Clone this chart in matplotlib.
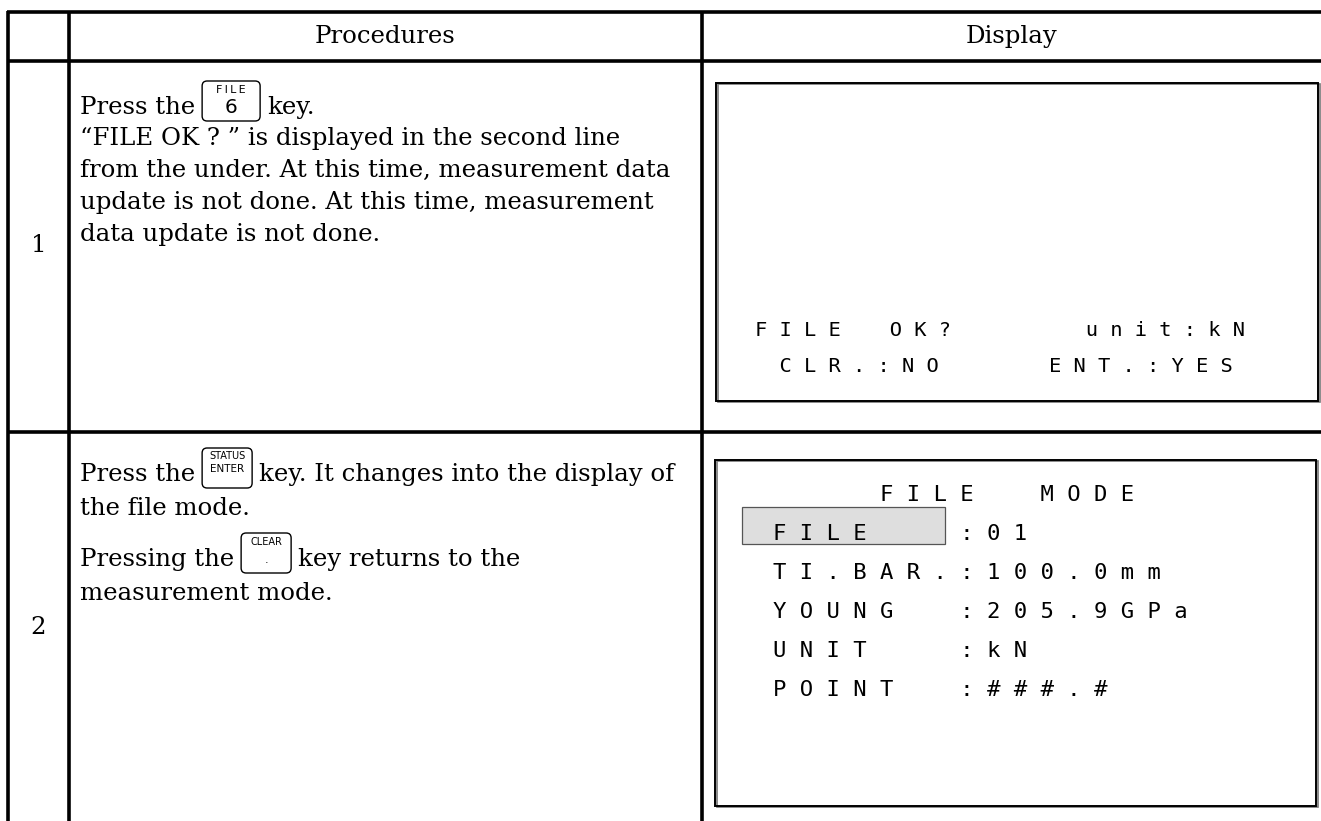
import matplotlib
matplotlib.use('Agg')
import matplotlib.pyplot as plt
from matplotlib.patches import Rectangle, FancyBboxPatch

W, H = 1321, 821

# Table content
headers = ['Procedures', 'Display']
step_numbers = ['1', '2']

# Procedure text, one list per line; a tuple is a key icon (top label, main label)
step1_lines = [
    ['Press the', ('F\u2009I\u2009L\u2009E', '6'), 'key.'],
    ['\u201cFILE OK ? \u201d is displayed in the second line'],
    ['from the under. At this time, measurement data'],
    ['update is not done. At this time, measurement'],
    ['data update is not done.'],
]
step2_lines = [
    ['Press the', ('STATUS', 'ENTER'), 'key. It changes into the display of'],
    ['the file mode.'],
    ['Pressing the', ('CLEAR', '.'), 'key returns to the'],
    ['measurement mode.'],
]

# Display screens (fixed pitch, one space between characters)
screen1_lines = [
    'F I L E    O K ?           u n i t : k N',
    '  C L R . : N O         E N T . : Y E S',
]
screen2_title = 'FILE  MODE'
screen2_labels = ['FILE', 'TI.BAR.', 'YOUNG', 'UNIT', 'POINT']
screen2_values = ['01', '100.0mm', '205.9GPa', 'kN', '###.#']

SERIF = 'DejaVu Serif'
MONO = 'DejaVu Sans Mono'
TXT = 17.6

fig = plt.figure(figsize=(W / 100, H / 100), dpi=100)
ax = fig.add_axes([0, 0, 1, 1])
ax.set_xlim(0, W)
ax.set_ylim(H, 0)
ax.axis('off')

# grid lines
x_left, x_mid, x_div = 8, 69, 702
y_top, y_head, y_row = 12, 61, 432
lw = 2.6
for y in (y_top, y_head, y_row):
    ax.plot([x_left - 1, W], [y, y], color='black', lw=lw, solid_capstyle='butt')
for x in (x_left, x_mid, x_div):
    ax.plot([x, x], [y_top - 1, H], color='black', lw=lw, solid_capstyle='butt')

# headers
ax.text((x_mid + x_div) / 2, 43, headers[0], family=SERIF, fontsize=TXT,
        ha='center', va='baseline')
ax.text((x_div + W) / 2, 43, headers[1], family=SERIF, fontsize=TXT,
        ha='center', va='baseline')

# step numbers
ax.text((x_left + x_mid) / 2, 245, step_numbers[0], family=SERIF, fontsize=TXT,
        ha='center', va='center')
ax.text((x_left + x_mid) / 2, 628, step_numbers[1], family=SERIF, fontsize=TXT,
        ha='center', va='center')

renderer = fig.canvas.get_renderer()


def draw_key(x, b, top, main):
    w = 58 if len(main) == 1 and main != '.' else 50
    box = FancyBboxPatch((x, b - 33), w, 40, boxstyle='round,pad=0,rounding_size=5',
                         fc='white', ec='black', lw=1.0)
    ax.add_patch(box)
    cx = x + w / 2
    if main == '.':
        ax.text(cx, b - 24, top, family='DejaVu Sans', fontsize=7,
                ha='center', va='center')
        ax.text(cx, b - 3, main, family='DejaVu Sans', fontsize=8,
                ha='center', va='baseline')
    elif len(main) > 1:
        ax.text(cx, b - 25, top, family='DejaVu Sans', fontsize=7,
                ha='center', va='center')
        ax.text(cx, b - 12, main, family='DejaVu Sans', fontsize=7.5,
                ha='center', va='center')
    else:
        ax.text(cx, b - 24, top, family='DejaVu Sans', fontsize=8,
                ha='center', va='center')
        ax.text(cx, b - 1, main, family='DejaVu Sans', fontsize=14.5,
                ha='center', va='baseline')
    return x + w


def draw_lines(lines, x0, baselines):
    for pieces, b in zip(lines, baselines):
        x = x0
        for p in pieces:
            if isinstance(p, tuple):
                x = draw_key(x + 4, b, *p) + 7
            else:
                t = ax.text(x, b, p, family=SERIF, fontsize=TXT, ha='left', va='baseline')
                x = t.get_window_extent(renderer).x1 + 3


draw_lines(step1_lines, 80, [114, 145, 177, 209, 241])
draw_lines(step2_lines, 80, [481, 515, 566, 600])


def screen_box(x0, y0, x1, y1):
    ax.add_patch(Rectangle((x0 + 1.5, y0 + 1.5), x1 - x0, y1 - y0, fill=False,
                           ec='#777777', lw=1.2))
    ax.add_patch(Rectangle((x0, y0), x1 - x0, y1 - y0, fill=False, ec='black', lw=1.4))


# screen 1
screen_box(716, 83, 1318, 401)
for s, b in zip(screen1_lines, [336, 372]):
    ax.text(755, b, s, family=MONO, fontsize=14.7, ha='left', va='baseline')

# screen 2
screen_box(715, 460, 1316, 806)
ax.add_patch(Rectangle((742, 507), 203, 37, fc='#dedede', ec='#555555', lw=0.9))
ax.text(773, 501, ' ' * 8 + ' '.join(screen2_title), family=MONO, fontsize=16,
        ha='left', va='baseline')
for lab, val, b in zip(screen2_labels, screen2_values, [540, 579, 618, 657, 696]):
    line = ' '.join(lab).ljust(14) + ' '.join(':' + val)
    ax.text(773, b, line, family=MONO, fontsize=16, ha='left', va='baseline')

fig.savefig('out.png', dpi=100)
